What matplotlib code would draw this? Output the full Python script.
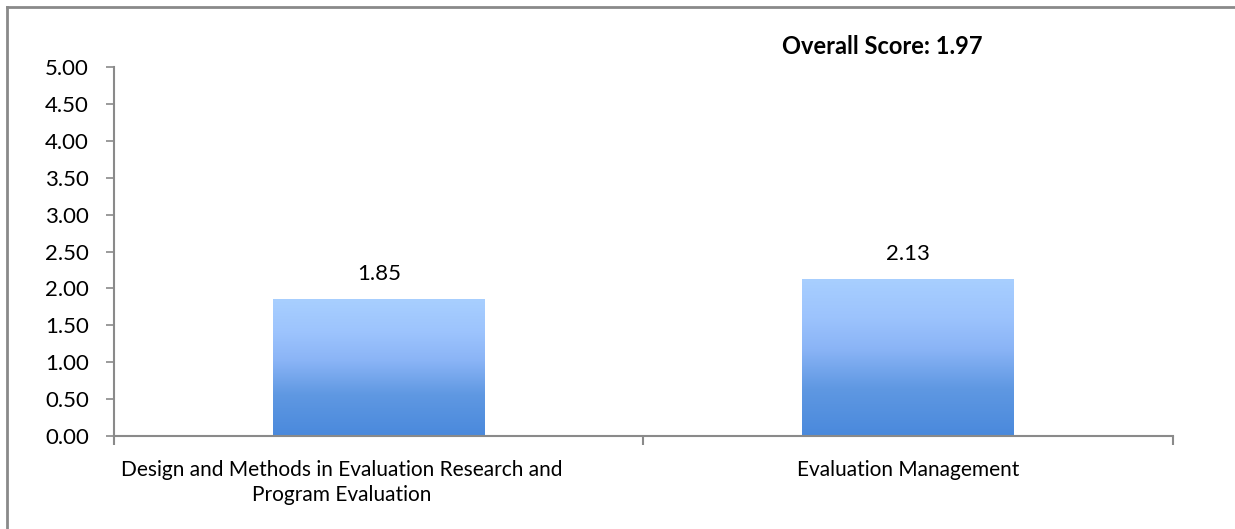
import numpy as np
import matplotlib.pyplot as plt
from matplotlib.colors import LinearSegmentedColormap
from matplotlib.lines import Line2D
from matplotlib.transforms import ScaledTranslation

categories = ["Design and Methods in Evaluation Research and\nProgram Evaluation",
              "Evaluation Management"]
scores = [1.85, 2.13]
overall = 1.97
yticks = [0.0, 0.5, 1.0, 1.5, 2.0, 2.5, 3.0, 3.5, 4.0, 4.5, 5.0]

plt.rcParams["font.family"] = ["Lato", "DejaVu Sans"]
plt.rcParams["font.size"] = 15

grey = "#8a8a8a"
fade = LinearSegmentedColormap.from_list(
    "fade", [(0.0, "#4a89dc"), (0.3, "#5f98e2"), (0.55, "#8ab4f6"),
             (0.75, "#9cc3fd"), (1.0, "#a8cfff")])

fig = plt.figure(figsize=(12.35, 5.29), dpi=100)
ax = fig.add_axes([0.0923, 0.1758, 0.8575, 0.6975])

x = np.arange(len(categories))
bars = ax.bar(x, scores, width=0.4, color="none", edgecolor="none")
grad = np.linspace(0, 1, 256).reshape(-1, 1)
for b in bars:
    x0, w, h = b.get_x(), b.get_width(), b.get_height()
    im = ax.imshow(grad, cmap=fade, origin="lower", aspect="auto",
                   extent=(x0, x0 + w, 0, h), zorder=2)
    im.set_clip_path(b)
    ax.annotate(f"{h:.2f}", (x0 + w / 2, h), xytext=(0, 11),
                textcoords="offset points", ha="center", va="bottom",
                fontsize=16)

ax.set_xlim(-0.5, len(categories) - 0.5)
ax.set_ylim(0, 5)
ax.set_yticks(yticks)
ax.set_yticklabels([f"{v:.2f}" for v in yticks], fontsize=16)
ax.set_xticks(x)
ax.set_xticklabels(categories, ha="center", linespacing=1.35)
ax.tick_params(axis="x", length=0, pad=17)
ax.tick_params(axis="y", length=6, width=1.2, color=grey, pad=12)

# the long wrapped label sits a little left of its bar
lbl = ax.get_xticklabels()[0]
lbl.set_transform(lbl.get_transform() + ScaledTranslation(-0.37, 0, fig.dpi_scale_trans))

# category separators hang below the baseline
for pos in np.arange(-0.5, len(categories), 1.0):
    ax.plot([pos, pos], [0, -0.12], color=grey, lw=1.5, clip_on=False,
            solid_capstyle="butt")

for side in ("top", "right"):
    ax.spines[side].set_visible(False)
for side in ("left", "bottom"):
    ax.spines[side].set_color(grey)
    ax.spines[side].set_linewidth(1.5)

fig.text(0.714, 0.912, f"Overall Score: {overall:.2f}", ha="center",
         va="center", fontsize=17, fontweight="bold")

fig.add_artist(Line2D([0.0055, 1.0], [0.987, 0.987], color=grey, lw=2))
fig.add_artist(Line2D([0.0055, 0.0055], [0.0, 0.987], color=grey, lw=2))

fig.savefig("out.png", dpi=100)
